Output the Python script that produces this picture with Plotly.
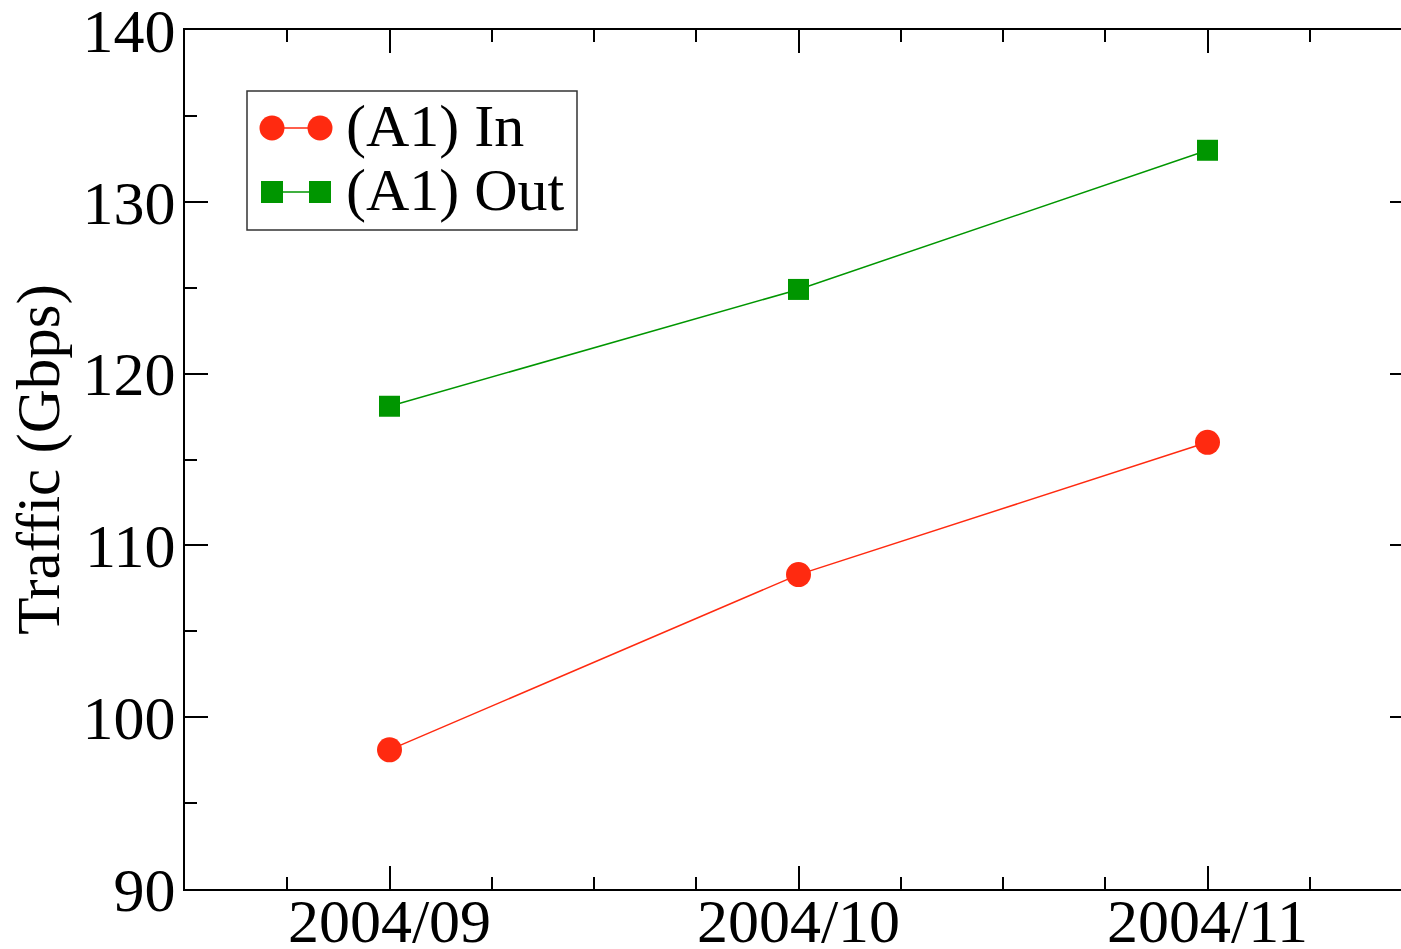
import plotly.graph_objects as go

# Monthly traffic for link A1
months = ["2004/09", "2004/10", "2004/11"]
traffic_in = [98.1, 108.3, 116.0]
traffic_out = [118.1, 124.9, 133.0]

series_names = ["(A1) In", "(A1) Out"]
y_ticks = [90, 100, 110, 120, 130, 140]

RED = "#ff2a10"
GREEN = "#009600"
FONT = "Liberation Serif"
TICK_FS = 62
TITLE_FS = 61
LEG_FS = 60

W, H = 1401, 949
L, R, T, B = 185, 0, 30, 60
PW, PH = W - L - R, H - T - B

x_pos = list(range(len(months)))
unit = 409.0  # pixels per month on the x axis
x_range = [-0.5, -0.5 + PW / unit]


def px_x(px):
    return (px - L) / PW


def px_y(py):
    return (T + PH - py) / PH


fig = go.Figure()

fig.add_trace(go.Scatter(
    x=x_pos, y=traffic_in, name=series_names[0], mode="lines+markers",
    line=dict(color=RED, width=1.5),
    marker=dict(symbol="circle", size=25, color=RED),
    showlegend=False,
))
fig.add_trace(go.Scatter(
    x=x_pos, y=traffic_out, name=series_names[1], mode="lines+markers",
    line=dict(color=GREEN, width=1.5),
    marker=dict(symbol="square", size=21, color=GREEN),
    showlegend=False,
))
# carrier trace for the right-hand tick axis
fig.add_trace(go.Scatter(
    x=x_pos, y=traffic_in, yaxis="y2", mode="none",
    showlegend=False, hoverinfo="skip",
))

axis_common = dict(
    showgrid=False, zeroline=False, ticks="inside", tickwidth=2,
    tickcolor="black", linecolor="black", linewidth=2, automargin=False,
    ticklabeloverflow="allow",
    tickfont=dict(family=FONT, size=TICK_FS, color="black"),
)

fig.update_layout(
    width=W, height=H,
    margin=dict(l=L, r=R, t=T, b=B, pad=0),
    paper_bgcolor="white", plot_bgcolor="white",
    font=dict(family=FONT, size=TICK_FS, color="black"),
    xaxis=dict(
        **axis_common,
        range=x_range, tickmode="array", tickvals=x_pos, ticktext=months,
        ticklen=23, showline=True, mirror="ticks",
        minor=dict(dtick=0.25, tick0=0, ticks="inside", ticklen=12,
                   tickwidth=2, tickcolor="black"),
        ticklabelstandoff=-23,
    ),
    yaxis=dict(
        **axis_common,
        range=[90, 140.001], tickmode="array", tickvals=y_ticks,
        ticklen=23, showline=True, mirror=False,
        minor=dict(dtick=5, tick0=90, ticks="inside", ticklen=12,
                   tickwidth=2, tickcolor="black"),
        title=dict(text="Traffic (Gbps)", font=dict(family=FONT, size=TITLE_FS),
                   standoff=3),
        ticklabelstandoff=-5,
    ),
    yaxis2=dict(
        overlaying="y", side="right", range=[90, 140.001],
        tickmode="array", tickvals=y_ticks, ticks="inside", ticklen=11,
        tickwidth=2, tickcolor="black", showticklabels=False,
        showline=False, showgrid=False, zeroline=False, automargin=False,
    ),
)

# legend box
shapes = [dict(type="rect", xref="paper", yref="paper",
               x0=px_x(247), x1=px_x(577), y0=px_y(230), y1=px_y(91),
               line=dict(color="#333333", width=1.5), fillcolor="white",
               layer="above")]
rows = [(128, RED, "circle", series_names[0]), (192, GREEN, "square", series_names[1])]
for cy, col, sym, label in rows:
    shapes.append(dict(type="line", xref="paper", yref="paper",
                       x0=px_x(272), x1=px_x(320), y0=px_y(cy), y1=px_y(cy),
                       line=dict(color=col, width=1.5), layer="above"))
    for cx in (272, 320):
        r = 12.5 if sym == "circle" else 11
        shapes.append(dict(type="circle" if sym == "circle" else "rect",
                           xref="paper", yref="paper",
                           x0=px_x(cx - r), x1=px_x(cx + r),
                           y0=px_y(cy + r), y1=px_y(cy - r),
                           line=dict(width=0), fillcolor=col, layer="above"))
    fig.add_annotation(x=px_x(344), y=px_y(cy - 2), xref="paper", yref="paper",
                       text=label, showarrow=False, xanchor="left",
                       yanchor="middle",
                       font=dict(family=FONT, size=LEG_FS, color="black"))
fig.update_layout(shapes=shapes)

fig.write_html("out.html")
